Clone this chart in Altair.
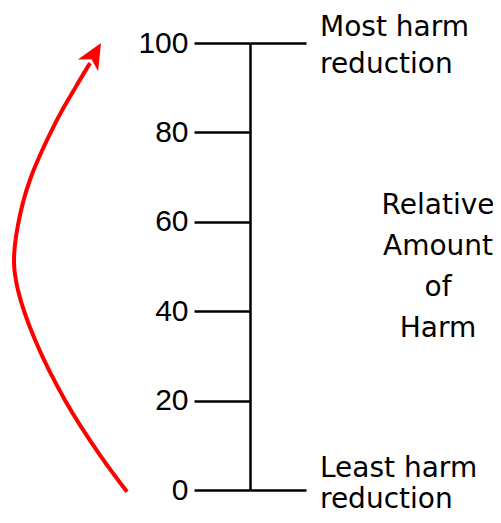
import altair as alt
import pandas as pd

# ---- data ----
tick_values = [0, 20, 40, 60, 80, 100]
end_values = [0, 100]
top_label = ["Most harm\nreduction"]
top_value = [100]
bottom_label = ["Least harm\nreduction"]
bottom_value = [0]
label_x = [312]
side_title = ["Relative\nAmount\nof\nHarm"]
side_title_x = [430]
side_title_y = [50]

# red curved arrow (x in layout units, y in scale units)
arrow_x = [119, 92, 57, 27, 10, 6, 10, 22, 49, 67, 82]
arrow_y = [-0.4, 7.8, 20.1, 33.6, 44.7, 51.0, 59.3, 69.4, 82.8, 89.9, 95.5]
head_x = [86.5]
head_y = [97.5]

# ---- tables ----
ticks_df = pd.DataFrame({"v": tick_values})
ends_df = pd.DataFrame({"v": end_values})
top_df = pd.DataFrame({"v": top_value, "label": top_label, "x": label_x})
bottom_df = pd.DataFrame({"v": bottom_value, "label": bottom_label, "x": label_x})
title_df = pd.DataFrame({"label": side_title, "x": side_title_x, "y": side_title_y})
arrow_df = pd.DataFrame({"x": arrow_x, "y": arrow_y, "i": list(range(len(arrow_x)))})
head_df = pd.DataFrame({"x": head_x, "y": head_y})

xs = alt.Scale(domain=[0, 485], nice=False, zero=False)
ys = alt.Scale(domain=[0, 100], nice=False, zero=False)

left_axis = alt.Axis(
    orient="left", values=tick_values, offset=-242, tickSize=56, tickWidth=2.5,
    tickColor="black", domainColor="black", domainWidth=2.5,
    labelFont="Liberation Sans", labelFontSize=30, labelColor="black",
    labelPadding=6, grid=False, title=None,
)
right_axis = alt.Axis(
    orient="right", values=end_values, offset=-243, tickSize=56, tickWidth=2.5,
    tickColor="black", domain=False, labels=False, grid=False, title=None,
)

scale_layer = alt.Chart(ticks_df).mark_point(opacity=0).encode(
    x=alt.value(242),
    y=alt.Y("v:Q", scale=ys, axis=left_axis),
)
end_ticks = alt.Chart(ends_df).mark_point(opacity=0).encode(
    x=alt.value(242),
    y=alt.Y("v:Q", scale=ys, axis=right_axis),
)


def label_layer(df, line_height, dy, align="left"):
    return alt.Chart(df).mark_text(
        lineBreak="\n", align=align, baseline="middle", font="DejaVu Sans",
        fontSize=28, lineHeight=line_height, dy=dy, color="black",
    ).encode(
        x=alt.X("x:Q", scale=xs, axis=None),
        y=alt.Y(df.columns[0] + ":Q", scale=ys, axis=None),
        text="label:N",
    )


top_text = label_layer(top_df, 37, -15)
bottom_text = label_layer(bottom_df, 31, -21)
title_text = alt.Chart(title_df).mark_text(
    lineBreak="\n", align="center", baseline="middle", font="DejaVu Sans",
    fontSize=28, lineHeight=41, dy=-61, color="black",
).encode(
    x=alt.X("x:Q", scale=xs, axis=None),
    y=alt.Y("y:Q", scale=ys, axis=None),
    text="label:N",
)
arrow = alt.Chart(arrow_df).mark_line(
    color="#ff0000", strokeWidth=4, interpolate="catmull-rom",
).encode(
    x=alt.X("x:Q", scale=xs, axis=None),
    y=alt.Y("y:Q", scale=ys, axis=None),
    order="i:Q",
)
head = alt.Chart(head_df).mark_point(
    shape="M0,-1L0.9,1L0,0.45L-0.9,1Z", filled=True, color="#ff0000",
    opacity=1, size=676, angle=30, strokeWidth=0,
).encode(
    x=alt.X("x:Q", scale=xs, axis=None),
    y=alt.Y("y:Q", scale=ys, axis=None),
)

chart = alt.layer(
    scale_layer, end_ticks, top_text, bottom_text, title_text, arrow, head
).resolve_axis(
    y="independent"
).properties(
    width=485, height=447,
    autosize=alt.AutoSizeParams(type="none"),
    padding={"left": 0, "top": 35, "right": 0, "bottom": 25},
).configure_view(stroke=None)

chart.save("out.html", embed_options={"renderer": "svg", "actions": False})
